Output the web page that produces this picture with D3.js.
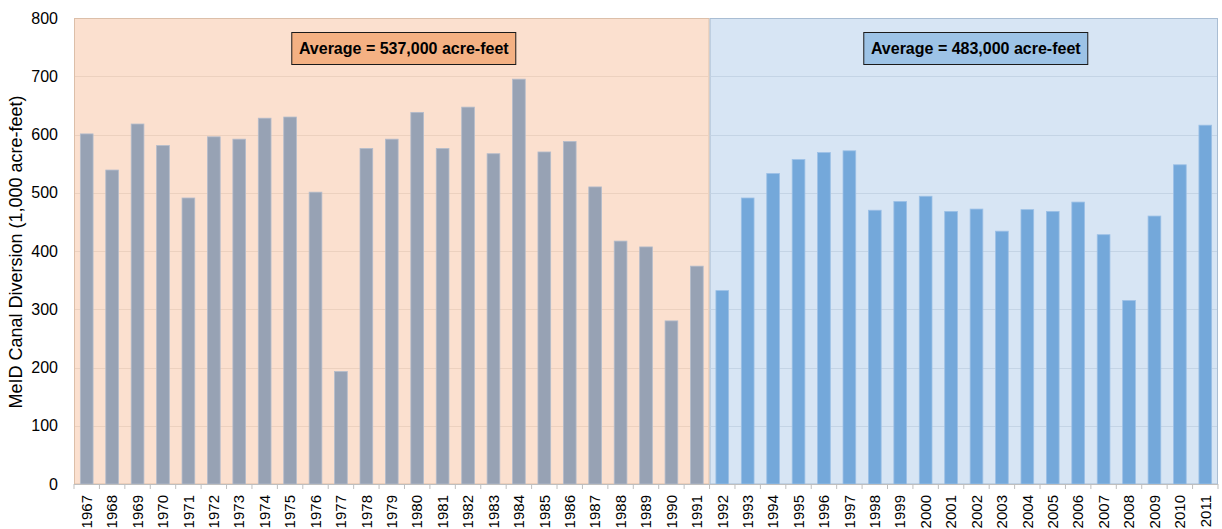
<!DOCTYPE html>
<html>
<head>
<meta charset="utf-8">
<script src="https://cdn.jsdelivr.net/npm/d3@7"></script>
<style>
  body { margin: 0; background: #fff; }
  svg text { font-family: "Liberation Sans", Arial, sans-serif; fill: #000; }
</style>
</head>
<body>
<div id="chart"></div>
<script>
// ── Data ────────────────────────────────────────────────────────────────────
const years = d3.range(1967, 2012).map(String);
// MeID canal diversion, 1,000 acre-feet
const diversion = [
  601, 539, 618, 581, 491, 596, 592, 628, 630, 501,
  193, 576, 592, 638, 576, 647, 567, 695, 570, 588,
  510, 417, 407, 280, 374,
  332, 491, 533, 557, 569, 572, 470, 485, 494, 468,
  472, 434, 471, 468, 484, 428, 315, 460, 548, 616
];
const periods = [
  { from: '1967', to: '1991', label: 'Average = 537,000 acre-feet' },
  { from: '1992', to: '2011', label: 'Average = 483,000 acre-feet' }
];
const yTicks = [0, 100, 200, 300, 400, 500, 600, 700, 800];

// Colours per period (early, late)
const bgFill   = ['#fbe0cf', '#d7e5f4'];
const bgStroke = ['#dcbfa9', '#a9bdd3'];
const gridCol  = ['#ecd1bf', '#c4d4e5'];
const barFill  = ['#97a2b4', '#74a8da'];
const barEdge  = ['#b4bccb', '#9cc0e6'];
const boxFill  = ['#f4b183', '#9dc3e6'];

// ── Layout ──────────────────────────────────────────────────────────────────
const margin = { top: 18, right: 4, bottom: 45, left: 74 };
const totalW = 1222, totalH = 529;
const W = totalW - margin.left - margin.right;
const H = totalH - margin.top - margin.bottom;

const data = years.map((y, i) => ({ year: y, value: diversion[i], period: +y >= 1992 ? 1 : 0 }));

const svg = d3.select('#chart').append('svg')
  .attr('width', totalW).attr('height', totalH);

const g = svg.append('g').attr('transform', `translate(${margin.left},${margin.top})`);

const x = d3.scaleBand().domain(years).range([0, W]).paddingInner(0.5).paddingOuter(0.25);
const y = d3.scaleLinear().domain([0, 800]).range([H, 0]);
const step = x.step();
const edge = yr => x(yr) - x.paddingInner() * step / 2;   // left boundary of a category

// Period backgrounds
periods.forEach((p, k) => {
  const x0 = k === 0 ? 0 : edge(p.from);
  const x1 = k === 0 ? edge(periods[1].from) : W;
  g.append('rect')
    .attr('x', x0 + 0.5).attr('y', 0.5)
    .attr('width', x1 - x0 - 1).attr('height', H - 0.5)
    .attr('fill', bgFill[k]).attr('stroke', bgStroke[k]).attr('stroke-width', 1);
  // gridlines inside this period
  g.append('g').selectAll('line').data(yTicks.filter(t => t > 0 && t < 800)).enter().append('line')
    .attr('x1', x0 + 1).attr('x2', x1 - 1)
    .attr('y1', d => Math.round(y(d)) + 0.5).attr('y2', d => Math.round(y(d)) + 0.5)
    .attr('stroke', gridCol[k]).attr('stroke-width', 1.2);
});

// Bars
g.append('g').selectAll('rect').data(data).enter().append('rect')
  .attr('x', d => x(d.year))
  .attr('y', d => y(d.value))
  .attr('width', x.bandwidth())
  .attr('height', d => H - y(d.value))
  .attr('fill', d => barFill[d.period])
  .attr('stroke', d => barEdge[d.period])
  .attr('stroke-width', 0.8);

// Average boxes (sit a little right of each period's centre)
periods.forEach((p, k) => {
  const x0 = k === 0 ? 0 : edge(p.from);
  const x1 = k === 0 ? edge(periods[1].from) : W;
  const cx = (x0 + x1) / 2 + 12;
  const bw = 224, bh = 32;
  g.append('rect')
    .attr('x', cx - bw / 2).attr('y', 14.5)
    .attr('width', bw).attr('height', bh)
    .attr('fill', boxFill[k]).attr('stroke', '#1a1a1a').attr('stroke-width', 1);
  g.append('text')
    .attr('x', cx).attr('y', 14.5 + bh / 2 + 5.5)
    .attr('text-anchor', 'middle')
    .attr('font-size', 16).attr('font-weight', 'bold')
    .text(p.label);
});

// X axis: line, boundary ticks, rotated labels
g.append('line')
  .attr('x1', 0).attr('x2', W).attr('y1', H + 0.5).attr('y2', H + 0.5)
  .attr('stroke', '#bfbfbf').attr('stroke-width', 1);
g.append('g').selectAll('line').data(years.concat(['end'])).enter().append('line')
  .attr('x1', d => d === 'end' ? W : edge(d)).attr('x2', d => d === 'end' ? W : edge(d))
  .attr('y1', H).attr('y2', H + 5)
  .attr('stroke', '#bfbfbf');

const xAxisG = g.append('g').attr('transform', `translate(0,${H})`)
  .call(d3.axisBottom(x).tickSize(0).tickPadding(0));
xAxisG.select('.domain').remove();
xAxisG.selectAll('text')
  .attr('font-size', 15)
  .attr('transform', 'rotate(-90)')
  .attr('text-anchor', 'end')
  .attr('x', -11).attr('y', 0).attr('dy', '0.35em');

// Y axis labels
const yAxisG = g.append('g')
  .call(d3.axisLeft(y).tickValues(yTicks).tickSize(0).tickPadding(16));
yAxisG.select('.domain').remove();
yAxisG.selectAll('text').attr('font-size', 16);

// Y title
g.append('text')
  .attr('transform', 'rotate(-90)')
  .attr('x', -H / 2 - 1).attr('y', -52)
  .attr('text-anchor', 'middle')
  .attr('font-size', 18)
  .text('MeID Canal Diversion (1,000 acre-feet)');
</script>
</body>
</html>
